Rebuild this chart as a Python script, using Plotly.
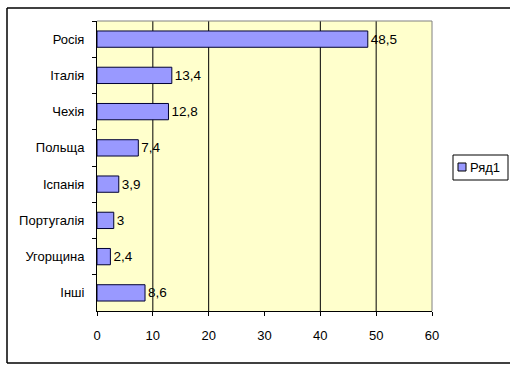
import plotly.graph_objects as go

categories = ["Росія", "Італія", "Чехія", "Польща", "Іспанія", "Португалія", "Угорщина", "Інші"]
values = [48.5, 13.4, 12.8, 7.4, 3.9, 3, 2.4, 8.6]
series_name = "Ряд1"
x_ticks = [0, 10, 20, 30, 40, 50, 60]
grid_values = [10, 20, 40, 50]

BAR_COLOR = "#9999FF"
FONT = "Liberation Sans, Arial, sans-serif"
labels = [("%g" % v).replace(".", ",") for v in values]

FW, FH = 518, 372
L, R, T, B = 97, 432, 21, 311
def px(x): return x / FW
def py(y): return (FH - y) / FH

fig = go.Figure()
fig.add_trace(go.Bar(
    y=categories, x=values, orientation="h", name=series_name,
    marker=dict(color=BAR_COLOR, line=dict(color="#000033", width=1)),
    text=labels, textposition="outside", cliponaxis=False,
    textfont=dict(family=FONT, size=13.5, color="black"),
    showlegend=False, hoverinfo="skip",
))

shapes = []
for g in grid_values:
    shapes.append(dict(type="line", xref="x", yref="y domain", x0=g, x1=g, y0=0, y1=1,
                       line=dict(color="black", width=1), layer="below"))
# plot area top/right border (grey)
shapes.append(dict(type="line", xref="x domain", yref="y domain", x0=0, x1=1, y0=1, y1=1,
                   line=dict(color="#808080", width=1)))
shapes.append(dict(type="line", xref="x domain", yref="y domain", x0=1, x1=1, y0=0, y1=1,
                   line=dict(color="#808080", width=1)))
# outer chart border
ox0, ox1, oy0, oy1 = px(7), px(510), py(363), py(8)
for (a, b, c, d) in [(ox0, ox1, oy1, oy1), (ox0, ox1, oy0, oy0), (ox0, ox0, oy0, oy1)]:
    shapes.append(dict(type="line", xref="paper", yref="paper", x0=a, x1=b, y0=c, y1=d,
                       line=dict(color="black", width=1.5)))
# legend box and swatch
shapes.append(dict(type="rect", xref="paper", yref="paper", x0=px(453), x1=px(508),
                   y0=py(180), y1=py(155), line=dict(color="black", width=1),
                   fillcolor="white"))
shapes.append(dict(type="rect", xref="paper", yref="paper", x0=px(458), x1=px(466),
                   y0=py(171), y1=py(163), line=dict(color="black", width=1),
                   fillcolor=BAR_COLOR))

annotations = [dict(text=series_name, xref="paper", yref="paper", x=px(468), y=py(167.5),
                    xanchor="left", yanchor="middle", showarrow=False,
                    font=dict(family=FONT, size=13, color="black"))]

fig.update_layout(
    width=FW, height=FH,
    margin=dict(l=0, r=0, t=0, b=0, pad=0),
    paper_bgcolor="white", plot_bgcolor="#FFFFCC",
    font=dict(family=FONT, size=13, color="black"),
    bargap=0.55,
    showlegend=False,
    shapes=shapes,
    annotations=annotations,
    xaxis=dict(domain=[px(L), px(R)], range=[0, 60], tickvals=x_ticks,
               showgrid=False, zeroline=False, automargin=False,
               showline=True, linecolor="black", linewidth=1,
               ticks="outside", ticklen=4, tickcolor="black", ticklabelstandoff=8),
    yaxis=dict(domain=[py(B), py(T)], autorange="reversed",
               showgrid=False, zeroline=False, automargin=False,
               showline=True, linecolor="black", linewidth=1,
               ticks="outside", ticklen=4, tickcolor="black", tickson="boundaries",
               ticklabelstandoff=9),
)

fig.write_html("out.html", config={"displayModeBar": False},
               post_script="document.body.style.margin='0';")
